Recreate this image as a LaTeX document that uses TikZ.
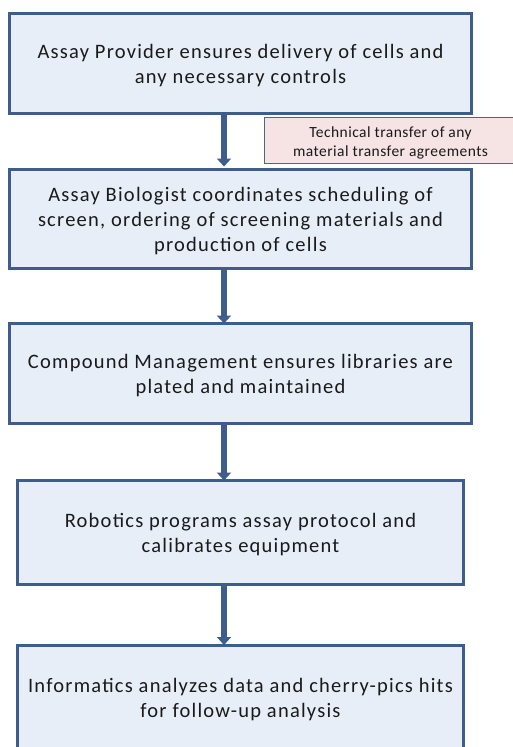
\documentclass[tikz,border=0pt]{standalone}
\usepackage{fontspec}
\setmainfont{Carlito}
\newfontfamily\mainlabel[LetterSpace=6]{Carlito}
\newfontfamily\notelabel[LetterSpace=3]{Carlito}
\usetikzlibrary{arrows.meta}
\definecolor{boxborder}{HTML}{3F5D8C}
\definecolor{boxfill}{HTML}{E7EEF8}
\definecolor{notefill}{HTML}{F6E3E3}
\definecolor{notedraw}{HTML}{4A6590}
\definecolor{txt}{HTML}{1A1A1A}
\begin{document}
\begin{tikzpicture}[x=1pt,y=-1pt,
  stepbox/.style={draw=boxborder,line width=3pt,fill=boxfill,rectangle,
    inner sep=0pt},
  steptext/.style={inner sep=0pt,align=center,text=txt,
    font=\mainlabel\fontsize{20.5}{25}\selectfont},
  notebox/.style={draw=notedraw,line width=1.5pt,fill=notefill,rectangle,
    inner sep=0pt},
  notetext/.style={inner sep=0pt,align=center,text=txt,
    font=\notelabel\fontsize{15.5}{19}\selectfont},
  flow/.style={draw=boxborder,line width=6pt,
    -{Triangle[width=14pt,length=8pt]}}]
\useasboundingbox (0,0) rectangle (513,747);
\node[stepbox,minimum width=462pt,minimum height=100pt] (b1) at (240.5,63.5) {};
\node[steptext] (t1) at ([yshift=-2.5pt]b1.center)
  {Assay Provider ensures delivery of cells and\\any necessary controls};
\node[stepbox,minimum width=462pt,minimum height=99pt] (b2) at (240.5,219) {};
\node[steptext] (t2) at ([yshift=-2.5pt]b2.center)
  {Assay Biologist coordinates scheduling of\\screen, ordering of screening materials and\\production of cells};
\node[stepbox,minimum width=462pt,minimum height=100pt] (b3) at (240.5,373.5) {};
\node[steptext] (t3) at ([yshift=-2.5pt]b3.center)
  {Compound Management ensures libraries are\\plated and maintained};
\node[stepbox,minimum width=446pt,minimum height=104pt] (b4) at (240.5,532.5) {};
\node[steptext] (t4) at ([yshift=-2.5pt]b4.center)
  {Robotics programs assay protocol and\\calibrates equipment};
\node[stepbox,minimum width=446pt,minimum height=104pt] (b5) at (240.5,697) {};
\node[steptext] (t5) at ([yshift=-2.5pt]b5.center)
  {Informatics analyzes data and cherry-pics hits\\for follow-up analysis};
\coordinate (a1s) at (224,115);
\coordinate (a1e) at (224,166.5);
\draw[flow] (a1s) -- (a1e);
\draw[flow] (b2.south -| a1s) -- ([yshift=-1.5pt]b3.north -| a1s);
\draw[flow] (b3.south -| a1s) -- ([yshift=-1.5pt]b4.north -| a1s);
\draw[flow] (b4.south -| a1s) -- ([yshift=-1.5pt]b5.north -| a1s);
\node[notebox,minimum width=252pt,minimum height=46pt] (n1) at (390.5,140.5) {};
\node[notetext] (nt1) at ([yshift=-2.5pt]n1.center)
  {Technical transfer of any\\material transfer agreements};
\end{tikzpicture}
\end{document}
